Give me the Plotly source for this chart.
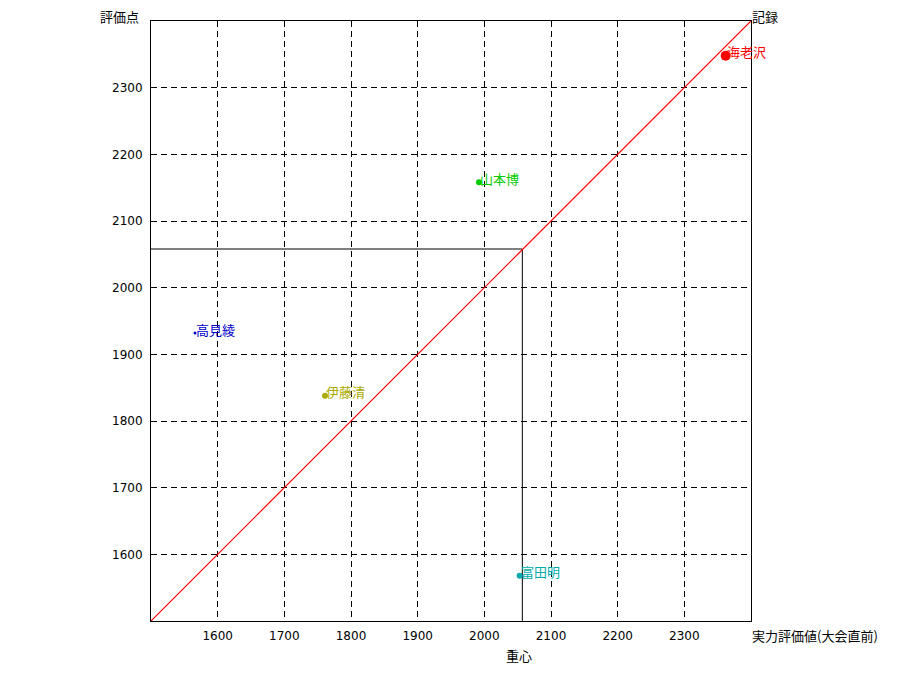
import plotly.graph_objects as go

names = ["海老沢", "山本博", "高見綾", "伊藤清", "富田明"]
jitsuryoku = [2362, 1992, 1566, 1761, 2053]
hyoka = [2348, 2158, 1932, 1838, 1568]
colors = ["#ff0000", "#00cc00", "#0000cc", "#aaaa00", "#00aaaa"]
sizes = [10, 6, 3, 6, 6]
centroid_x = 2057
centroid_y = 2058
axis_min, axis_max = 1500, 2400
tick_vals = [1600, 1700, 1800, 1900, 2000, 2100, 2200, 2300]

JP = "Noto Sans CJK JP"
NUM = "DejaVu Sans"

fig = go.Figure()

# centroid lines
fig.add_trace(go.Scatter(x=[axis_min, centroid_x, centroid_x], y=[centroid_y, centroid_y, axis_min],
                         mode="lines", line=dict(color="black", width=1), hoverinfo="skip", showlegend=False))

annotations = []
for n, xv, yv, c, s in zip(names, jitsuryoku, hyoka, colors, sizes):
    fig.add_trace(go.Scatter(x=[xv], y=[yv], mode="markers",
                             marker=dict(color=c, size=s, line=dict(width=0)),
                             showlegend=False, cliponaxis=False))
    annotations.append(dict(text=n, x=xv, y=yv, xref="x", yref="y", xanchor="left", yanchor="middle",
                            xshift=-1, yshift=4, showarrow=False,
                            font=dict(family=JP, size=13, color=c)))

# diagonal (record line)
fig.add_shape(type="line", xref="x", yref="y", x0=axis_min, y0=axis_min, x1=axis_max, y1=axis_max,
              line=dict(color="red", width=1.2), layer="above")

axis_common = dict(range=[axis_min, axis_max], tickvals=tick_vals, showgrid=True,
                   gridcolor="black", gridwidth=1, griddash="6px,4px",
                   showline=True, linecolor="black", linewidth=1, mirror=True,
                   zeroline=False, ticks="", tickfont=dict(family=NUM, size=12, color="black"))

fig.update_xaxes(**axis_common, ticklabelstandoff=4)
fig.update_yaxes(**axis_common, ticklabelstandoff=5)

annotations += [
    dict(text="評価点", xref="paper", yref="paper", x=0, y=1, xanchor="right", yanchor="middle",
         xshift=-10, yshift=5, showarrow=False, font=dict(family=JP, size=13, color="black")),
    dict(text="記録", xref="paper", yref="paper", x=1, y=1, xanchor="left", yanchor="middle",
         xshift=-1, yshift=5, showarrow=False, font=dict(family=JP, size=13, color="black")),
    dict(text="実力評価値(大会直前)", xref="paper", yref="paper", x=1, y=0, xanchor="left", yanchor="middle",
         xshift=-1, yshift=-14, showarrow=False, font=dict(family=JP, size=13, color="black")),
    dict(text="重心", xref="x", yref="paper", x=centroid_x, y=0, xanchor="center", yanchor="middle",
         xshift=-3, yshift=-34, showarrow=False, font=dict(family=JP, size=13, color="black")),
]

fig.update_layout(
    width=900, height=700,
    margin=dict(l=143, r=157, t=13, b=87),
    plot_bgcolor="white", paper_bgcolor="white",
    font=dict(family=NUM, size=12, color="black"),
    annotations=annotations,
)

fig.write_html("out.html")
